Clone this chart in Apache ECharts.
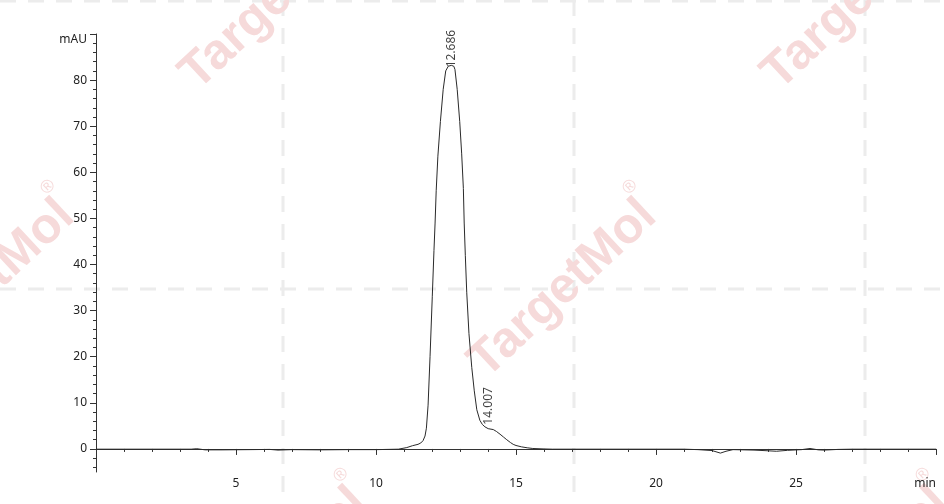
<!DOCTYPE html>
<html lang="en">
<head>
  <meta charset="UTF-8">
  <title>Chromatogram</title>
  <script src="https://cdn.jsdelivr.net/npm/echarts@6/dist/echarts.min.js"></script>
  <style>
    html, body { margin: 0; padding: 0; background: #ffffff; }
    #chart { width: 944px; height: 504px; }
  </style>
</head>
<body>
<div id="chart"></div>
<script>
  // retention time (min) and signal (mAU)
  const times = [
    0, 1.0, 2.0, 3.0, 3.4, 3.6, 3.9, 4.5, 5.5, 6.2, 6.5, 7.0, 8.0, 9.0, 10.0,
    10.8, 11.1, 11.3, 11.5, 11.6, 11.68, 11.75, 11.8, 11.86, 11.93, 12.01, 12.07,
    12.11, 12.15, 12.21, 12.30, 12.40, 12.49, 12.58, 12.69, 12.78, 12.82, 12.90,
    12.99, 13.06, 13.12, 13.15, 13.19, 13.24, 13.32, 13.42, 13.51, 13.60, 13.71,
    13.80, 13.89, 14.007, 14.19, 14.30, 14.43, 14.55, 14.67, 14.8, 14.9, 15.0,
    15.2, 15.4, 15.6, 16.0, 16.3, 17, 18, 19, 20, 21, 21.5, 22.0, 22.3, 22.5,
    22.75, 23.5, 24.0, 24.3, 24.7, 25.2, 25.5, 25.8, 26.0, 26.5, 27, 28, 29, 30
  ];
  const signal = [
    -0.05, -0.05, -0.05, -0.05, -0.05, 0.05, -0.2, -0.2, -0.15, -0.1, -0.25, -0.15, -0.2, -0.15, -0.15,
    -0.05, 0.3, 0.7, 1.0, 1.3, 1.8, 2.8, 4.5, 9.5, 20, 33, 43,
    49, 56, 63.5, 71, 78, 82, 83.0, 83.2, 83.0, 82.3, 78,
    71, 64, 56.5, 49, 42, 34, 25, 17.7, 12.6, 8.5, 6.2,
    5.3, 4.8, 4.4, 4.2, 3.8, 3.2, 2.6, 2.0, 1.4, 1.0, 0.75,
    0.45, 0.25, 0.1, 0.0, -0.05, -0.05, -0.05, -0.05, -0.05, -0.05, -0.15, -0.35, -0.9, -0.5,
    -0.15, -0.25, -0.4, -0.5, -0.3, -0.15, 0.1, -0.2, -0.25, -0.1, -0.05, -0.05, -0.05, -0.05
  ];

  // labelled peaks
  const peakTimes = [12.686, 14.007];
  const peakHeights = [83.2, 4.4];
  const peakLabelGap = [-2, 4];

  // axis ticks
  const xMajor = [5, 10, 15, 20, 25, 30];
  const xMinor = [1, 2, 3, 4, 6, 7, 8, 9, 11, 12, 13, 14, 16, 17, 18, 19, 21, 22, 23, 24, 26, 27, 28, 29];
  const yMajor = [0, 10, 20, 30, 40, 50, 60, 70, 80, 90];
  const yMinor = [-4, -2, 2, 4, 6, 8, 12, 14, 16, 18, 22, 24, 26, 28, 32, 34, 36, 38, 42, 44, 46, 48,
                  52, 54, 56, 58, 62, 64, 66, 68, 72, 74, 76, 78, 82, 84, 86, 88];

  const chart = echarts.init(document.getElementById('chart'));

  // watermark tiles (background decoration)
  const pink = '#f6dada';
  const rot = 43 * Math.PI / 180;
  const wordCenters = [[274, 1], [856, 1], [-19, 289], [563, 289], [274, 577], [856, 577]];
  const regMarks = [[341, -101], [923, -101], [48, 187], [630, 187], [341, 475], [923, 475]];
  const deco = [];
  [283, 574, 865].forEach(x => deco.push({
    type: 'line', z: 0, silent: true,
    shape: { x1: x, y1: 0, x2: x, y2: 504 },
    style: { stroke: '#ececec', lineWidth: 3, lineDash: [16, 12] }
  }));
  [1, 289].forEach(y => deco.push({
    type: 'line', z: 0, silent: true,
    shape: { x1: 0, y1: y, x2: 944, y2: y },
    style: { stroke: '#ececec', lineWidth: 3, lineDash: [16, 12] }
  }));
  wordCenters.forEach(p => deco.push({
    type: 'text', z: 0, silent: true, x: p[0], y: p[1], rotation: rot,
    style: { text: 'TargetMol', fill: pink, font: 'bold 50px "Liberation Sans", sans-serif',
             align: 'center', verticalAlign: 'middle' }
  }));
  regMarks.forEach(p => deco.push({
    type: 'text', z: 0, silent: true, x: p[0], y: p[1], rotation: rot,
    style: { text: '\u00ae', fill: pink, font: '18px "Liberation Sans", sans-serif',
             align: 'center', verticalAlign: 'middle' }
  }));

  const axisColor = '#333';
  const labelFont = { fontFamily: 'Noto Sans', fontSize: 12, color: '#222' };

  const option = {
    animation: false,
    backgroundColor: '#ffffff',
    graphic: deco,
    grid: { left: 96, right: 8, top: 34, bottom: 32 },
    xAxis: [
      {
        type: 'value', min: 0, max: 30,
        axisLine: { lineStyle: { color: axisColor, width: 1 } },
        axisTick: { customValues: xMajor, length: 6, lineStyle: { color: axisColor } },
        axisLabel: Object.assign({
          customValues: xMajor, margin: 6, alignMaxLabel: 'right',
          formatter: v => (v === 30 ? 'min' : String(v))
        }, labelFont),
        splitLine: { show: false }
      },
      {
        type: 'value', min: 0, max: 30, position: 'bottom',
        axisLine: { show: false },
        axisTick: { customValues: xMinor, length: 3, lineStyle: { color: axisColor } },
        axisLabel: { show: false },
        splitLine: { show: false }
      }
    ],
    yAxis: [
      {
        type: 'value', min: -5, max: 90,
        axisLine: { show: true, lineStyle: { color: axisColor, width: 1 } },
        axisTick: { show: true, customValues: yMajor, length: 6, lineStyle: { color: axisColor } },
        axisLabel: Object.assign({
          customValues: yMajor, margin: 9,
          formatter: v => (v === 90 ? '{u|mAU}' : String(v)),
          rich: { u: { fontFamily: 'Noto Sans', fontSize: 12, color: '#222', padding: [12, 0, 0, 0] } }
        }, labelFont),
        splitLine: { show: false }
      },
      {
        type: 'value', min: -5, max: 90, position: 'left', offset: 0,
        axisLine: { show: false },
        axisTick: { show: true, customValues: yMinor, length: 3, lineStyle: { color: axisColor } },
        axisLabel: { show: false },
        splitLine: { show: false }
      }
    ],
    series: [
      {
        type: 'line',
        data: times.map((t, i) => [t, signal[i]]),
        showSymbol: false,
        symbol: 'none',
        lineStyle: { color: '#2a2a2a', width: 1 },
        z: 3
      },
      {
        type: 'scatter',
        data: peakTimes.map((t, i) => ({
          value: [t, peakHeights[i]],
          label: { distance: peakLabelGap[i] }
        })),
        symbolSize: 0,
        z: 4,
        label: {
          show: true,
          position: 'top',
          rotate: 90,
          align: 'left',
          verticalAlign: 'middle',
          fontFamily: 'Noto Sans',
          fontSize: 12,
          color: '#111',
          formatter: p => p.value[0].toFixed(3)
        }
      }
    ]
  };
  chart.setOption(option);
</script>
</body>
</html>
